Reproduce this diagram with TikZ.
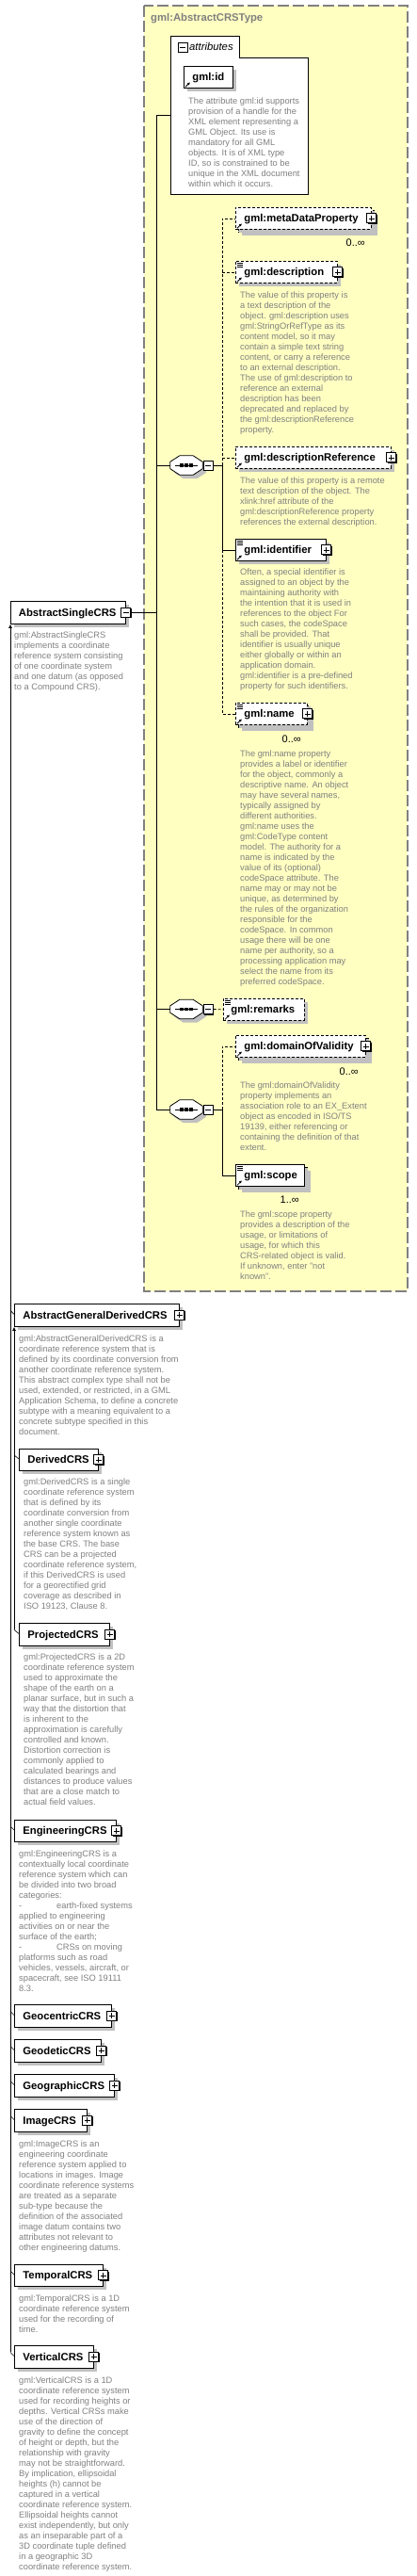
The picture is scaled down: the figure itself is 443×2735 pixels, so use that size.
\documentclass[tikz,border=0pt]{standalone}
\usepackage{fontspec}
\setmainfont{Liberation Sans}
\usetikzlibrary{arrows.meta,shadows}
\definecolor{typefill}{RGB}{255,255,194}
\definecolor{typeline}{RGB}{128,128,128}
\definecolor{docgray}{RGB}{128,128,128}
\definecolor{shgray}{RGB}{192,192,192}
\newcommand\namefont{\fontsize{11.3}{13}\selectfont\bfseries}
\newcommand\docfont{\fontsize{9.3}{11}\selectfont}

\begin{document}
\begin{tikzpicture}[x=1pt,y=-1pt,line join=miter,
  every node/.style={inner sep=0pt},
  elem/.style={draw,fill=white,line width=0.8pt,anchor=north west,minimum height=23pt,inner xsep=9pt,align=left,font=\namefont,text height=8.1pt,text depth=0pt,drop shadow={shadow xshift=4pt,shadow yshift=-4pt,fill=shgray,opacity=1}},
  opt/.style={dash pattern=on 3pt off 2pt},
  doc/.style={anchor=north west,align=left,font=\docfont,text=docgray},
  occ/.style={anchor=base east,font=\fontsize{11}{13}\selectfont},
  conn/.style={line width=0.8pt},
  optconn/.style={line width=0.8pt,dash pattern=on 3pt off 2pt},
  inh/.style={line width=0.8pt,-{Latex[length=4pt,width=4pt]}},
  seq/.style={minimum width=34pt,minimum height=20pt},
  plusbox/.style={draw,fill=white,line width=0.9pt,minimum size=10pt,drop shadow={shadow xshift=1pt,shadow yshift=-1pt,fill=black,opacity=1},
    path picture={\draw[line width=0.7pt] ([xshift=2pt]path picture bounding box.west) -- ([xshift=-2pt]path picture bounding box.east)
      ([yshift=-2pt]path picture bounding box.north) -- ([yshift=2pt]path picture bounding box.south);}},
  minusbox/.style={draw,fill=white,line width=0.9pt,minimum size=10pt,drop shadow={shadow xshift=1pt,shadow yshift=-1pt,fill=black,opacity=1},
    path picture={\draw[line width=0.7pt] ([xshift=2pt]path picture bounding box.west) -- ([xshift=-2pt]path picture bounding box.east);}}]
  \useasboundingbox (0,0) rectangle (443,2735);
  \def\octa#1{([xshift=10pt]#1.north west) -- ([xshift=-10pt]#1.north east) -- ([yshift=-6.5pt]#1.north east) -- ([yshift=6.5pt]#1.south east)
    -- ([xshift=-10pt]#1.south east) -- ([xshift=10pt]#1.south west) -- ([yshift=6.5pt]#1.south west) -- ([yshift=-6.5pt]#1.north west) -- cycle}

  \draw[fill=typefill,draw=typeline,line width=1.2pt,dash pattern=on 12pt off 4pt] (153,6) rectangle (433,1371);
  \node[anchor=base west,font=\namefont,text=typeline] (typetitle) at (160,23) {gml:AbstractCRSType};

  \draw[fill=white,line width=0.8pt] (181,38) -- (254,38) -- (254,61) -- (327,61) -- (327,206) -- (181,206) -- cycle;
  \coordinate (attrs) at (181,122);
  \node[minusbox] (attrsm) at (194,50.5) {};
  \node[anchor=base west,font=\fontsize{11.3}{13}\selectfont\itshape] (attrslbl) at (201,54) {attributes};
  \node[elem,text width=34pt] (gmlid) at (195,70) {gml:id};
  \node[doc] (gmliddoc) at (200,103.5) {The attribute gml:id supports\\provision of a handle for the\\XML element representing a\\GML Object. Its use is\\mandatory for all GML\\objects. It is of XML type\\ID, so is constrained to be\\unique in the XML document\\within which it occurs.};

  \node[seq] (seqa) at (198,494) {};
  \node[seq] (seqb) at (198,1071.5) {};
  \node[seq] (seqc) at (198,1178) {};
  \foreach \s in {seqa,seqb,seqc}{
    \fill[shgray,transform canvas={shift={(4pt,-4pt)}}] \octa{\s};
    \draw[fill=white,line width=0.8pt] \octa{\s};
    \draw[line width=0.7pt] ([xshift=5pt]\s.west) -- ([xshift=-5pt]\s.east);
    \foreach \dx in {-5,0,5} \fill ([xshift=\dx pt]\s.center) +(-1.6pt,-1.6pt) rectangle +(1.6pt,1.6pt);
  }
  \node[minusbox] (seqam) at ([xshift=6pt]seqa.east) {};
  \node[minusbox] (seqbm) at ([xshift=6pt]seqb.east) {};
  \node[minusbox] (seqcm) at ([xshift=6pt]seqc.east) {};

  \node[elem,opt,text width=126pt] (mdpbk) at (253,223) {};
  \node[elem,opt,text width=126pt] (mdp) at (250,220) {gml:metaDataProperty};
  \node[occ] (mdpocc) at (388,261) {0..∞};
  \node[elem,opt,text width=90pt] (descr) at (250,277) {gml:description};
  \node[doc] (descrdoc) at (255,309.5) {The value of this property is\\a text description of the\\object. gml:description uses\\gml:StringOrRefType as its\\content model, so it may\\contain a simple text string\\content, or carry a reference\\to an external description.\\The use of gml:description to\\reference an external\\description has been\\deprecated and replaced by\\the gml:descriptionReference\\property.};
  \node[elem,opt,text width=147pt] (descref) at (250,474) {gml:descriptionReference};
  \node[doc] (descrefdoc) at (255,506.5) {The value of this property is a remote\\text description of the object. The\\xlink:href attribute of the\\gml:descriptionReference property\\references the external description.};
  \node[elem,text width=78pt] (ident) at (250,572) {gml:identifier};
  \node[doc] (identdoc) at (255,603.5) {Often, a special identifier is\\assigned to an object by the\\maintaining authority with\\the intention that it is used in\\references to the object For\\such cases, the codeSpace\\shall be provided. That\\identifier is usually unique\\either globally or within an\\application domain.\\gml:identifier is a pre-defined\\property for such identifiers.};
  \node[elem,opt,text width=58pt] (gnamebk) at (253,749) {};
  \node[elem,opt,text width=58pt] (gname) at (250,746) {gml:name};
  \node[occ] (gnameocc) at (320,788) {0..∞};
  \node[doc] (gnamedoc) at (255,796.5) {The gml:name property\\provides a label or identifier\\for the object, commonly a\\descriptive name.  An object\\may have several names,\\typically assigned by\\different authorities.\\gml:name uses the\\gml:CodeType content\\model.  The authority for a\\name is indicated by the\\value of its (optional)\\codeSpace attribute.  The\\name may or may not be\\unique, as determined by\\the rules of the organization\\responsible for the\\codeSpace.  In common\\usage there will be one\\name per authority, so a\\processing application may\\select the name from its\\preferred codeSpace.};
  \node[elem,opt,inner xsep=8pt,text width=70pt] (remarks) at (237,1060) {gml:remarks};
  \node[elem,opt,text width=120pt] (dovbk) at (253,1102) {};
  \node[elem,opt,text width=120pt] (dov) at (250,1099) {gml:domainOfValidity};
  \node[occ] (dovocc) at (381,1141) {0..∞};
  \node[doc] (dovdoc) at (255,1148.5) {The gml:domainOfValidity\\property implements an\\association role to an EX\_Extent\\object as encoded in ISO/TS\\19139, either referencing or\\containing the definition of that\\extent.};
  \node[elem,text width=55pt] (scopebk) at (253,1239) {};
  \node[elem,text width=55pt] (scope) at (250,1236) {gml:scope};
  \node[occ] (scopeocc) at (318,1277) {1..∞};
  \node[doc] (scopedoc) at (255,1285.5) {The gml:scope property\\provides a description of the\\usage, or limitations of\\usage, for which this\\CRS-related object is valid.\\If unknown, enter "not\\known".};

  \node[elem,minimum height=24pt,inner xsep=8.5pt,text width=105pt] (asc) at (11,638) {AbstractSingleCRS};
  \node[doc] (ascdoc) at (15,670.5) {gml:AbstractSingleCRS\\implements a coordinate\\reference system consisting\\of one coordinate system\\and one datum (as opposed\\to a Compound CRS).};
  \node[minusbox] (ascm) at (asc.east) {};
  \node[elem,minimum height=24pt,text width=157pt] (agdcrs) at (15,1384) {AbstractGeneralDerivedCRS};
  \node[doc] (agdcrsdoc) at (20,1417.5) {gml:AbstractGeneralDerivedCRS is a\\coordinate reference system that is\\defined by its coordinate conversion from\\another coordinate reference system.\\This abstract complex type shall not be\\used, extended, or restricted, in a GML\\Application Schema, to define a concrete\\subtype with a meaning equivalent to a\\concrete subtype specified in this\\document.};
  \node[elem,text width=66pt] (dercrs) at (20,1538) {DerivedCRS};
  \node[doc] (dercrsdoc) at (25,1569.5) {gml:DerivedCRS is a single\\coordinate reference system\\that is defined by its\\coordinate conversion from\\another single coordinate\\reference system known as\\the base CRS. The base\\CRS can be a projected\\coordinate reference system,\\if this DerivedCRS is used\\for a georectified grid\\coverage as described in\\ISO 19123, Clause 8.};
  \node[elem,minimum height=24pt,text width=78pt] (projcrs) at (20,1723) {ProjectedCRS};
  \node[doc] (projcrsdoc) at (25,1755.5) {gml:ProjectedCRS is a 2D\\coordinate reference system\\used to approximate the\\shape of the earth on a\\planar surface, but in such a\\way that the distortion that\\is inherent to the\\approximation is carefully\\controlled and known.\\Distortion correction is\\commonly applied to\\calculated bearings and\\distances to produce values\\that are a close match to\\actual field values.};
  \node[elem,text width=90pt] (engcrs) at (15,1932) {EngineeringCRS};
  \node[doc] (engcrsdoc) at (20,1964.5) {gml:EngineeringCRS is a\\contextually local coordinate\\reference system which can\\be divided into two broad\\categories:\\-\hspace*{36.9pt}earth-fixed systems\\applied to engineering\\activities on or near the\\surface of the earth;\\-\hspace*{36.9pt}CRSs on moving\\platforms such as road\\vehicles, vessels, aircraft, or\\spacecraft, see ISO 19111\\8.3.};
  \node[elem,minimum height=24pt,text width=85pt] (geoccrs) at (15,2128) {GeocentricCRS};
  \node[elem,minimum height=24pt,text width=74pt] (geodcrs) at (15,2165) {GeodeticCRS};
  \node[elem,minimum height=24pt,text width=88pt] (geogcrs) at (15,2202) {GeographicCRS};
  \node[elem,minimum height=24pt,text width=59pt] (imgcrs) at (15,2239) {ImageCRS};
  \node[doc] (imgcrsdoc) at (20,2272.5) {gml:ImageCRS is an\\engineering coordinate\\reference system applied to\\locations in images. Image\\coordinate reference systems\\are treated as a separate\\sub-type because the\\definition of the associated\\image datum contains two\\attributes not relevant to\\other engineering datums.};
  \node[elem,text width=76pt] (tmpcrs) at (15,2404) {TemporalCRS};
  \node[doc] (tmpcrsdoc) at (20,2436.5) {gml:TemporalCRS is a 1D\\coordinate reference system\\used for the recording of\\time.};
  \node[elem,minimum height=24pt,text width=66pt] (vertcrs) at (15,2490) {VerticalCRS};
  \node[doc] (vertcrsdoc) at (20,2523.5) {gml:VerticalCRS is a 1D\\coordinate reference system\\used for recording heights or\\depths. Vertical CRSs make\\use of the direction of\\gravity to define the concept\\of height or depth, but the\\relationship with gravity\\may not be straightforward.\\By implication, ellipsoidal\\heights (h) cannot be\\captured in a vertical\\coordinate reference system.\\Ellipsoidal heights cannot\\exist independently, but only\\as an inseparable part of a\\3D coordinate tuple defined\\in a geographic 3D\\coordinate reference system.};

  \foreach \n in {mdp,descr,descref,ident,gname,dov,agdcrs,dercrs,projcrs,engcrs,geoccrs,geodcrs,geogcrs,imgcrs,tmpcrs,vertcrs}
    \node[plusbox] (\n p) at (\n.east) {};
  \foreach \n in {gmlid,mdp,descr,descref,ident,gname,remarks,dov,scope}
    \draw[line width=0.8pt,-{Latex[length=3pt,width=3pt]}] ([xshift=2pt,yshift=1.5pt]\n.south west) -- ++(5,-5);
  \foreach \n in {descr,ident,gname,remarks,scope}
    \foreach \dy in {2,4,6} \draw[line width=0.6pt] ([xshift=2pt,yshift=-\dy pt]\n.north west) -- ++(6,0);

  \coordinate (ttop) at (166,122);
  \coordinate (bra) at (236,494);
  \coordinate (brc) at (236,1178);
  \draw[conn] (attrs) -- (ttop) |- (seqc.west);
  \draw[conn] (seqa.west -| ttop) -- (seqa.west);
  \draw[conn] (seqb.west -| ttop) -- (seqb.west);
  \draw[conn] (ascm.east) -- (ascm.east -| ttop);
  \draw[conn] (seqam.east) -- (bra);
  \draw[optconn] (bra) |- (mdp.west);
  \draw[optconn] (bra |- descr.west) -- (descr.west);
  \draw[optconn] (bra |- descref.west) -- (descref.west);
  \draw[conn] (bra) |- (ident.west);
  \draw[optconn] (bra |- ident.west) |- (gname.west);
  \draw[optconn] (seqbm.east) -- (remarks.west);
  \draw[conn] (seqcm.east) -- (brc);
  \draw[optconn] (brc) |- (dov.west);
  \draw[conn] (brc) |- (scope.west);

  \coordinate (inhbot) at (11,2497);
  \coordinate (inhbotb) at (15,1730);
  \draw[inh] (inhbot) -- (asc.south west);
  \draw[inh] (inhbotb) -- (agdcrs.south west);
  \foreach \n in {agdcrs,engcrs,geoccrs,geodcrs,geogcrs,imgcrs,tmpcrs,vertcrs}
    \draw[line width=0.6pt] ([xshift=-4pt,yshift=5pt]\n.west) -- ([yshift=1pt]\n.west);
  \foreach \n in {dercrs,projcrs}
    \draw[line width=0.6pt] ([xshift=-5pt,yshift=5pt]\n.west) -- ([yshift=1pt]\n.west);
\end{tikzpicture}
\end{document}
